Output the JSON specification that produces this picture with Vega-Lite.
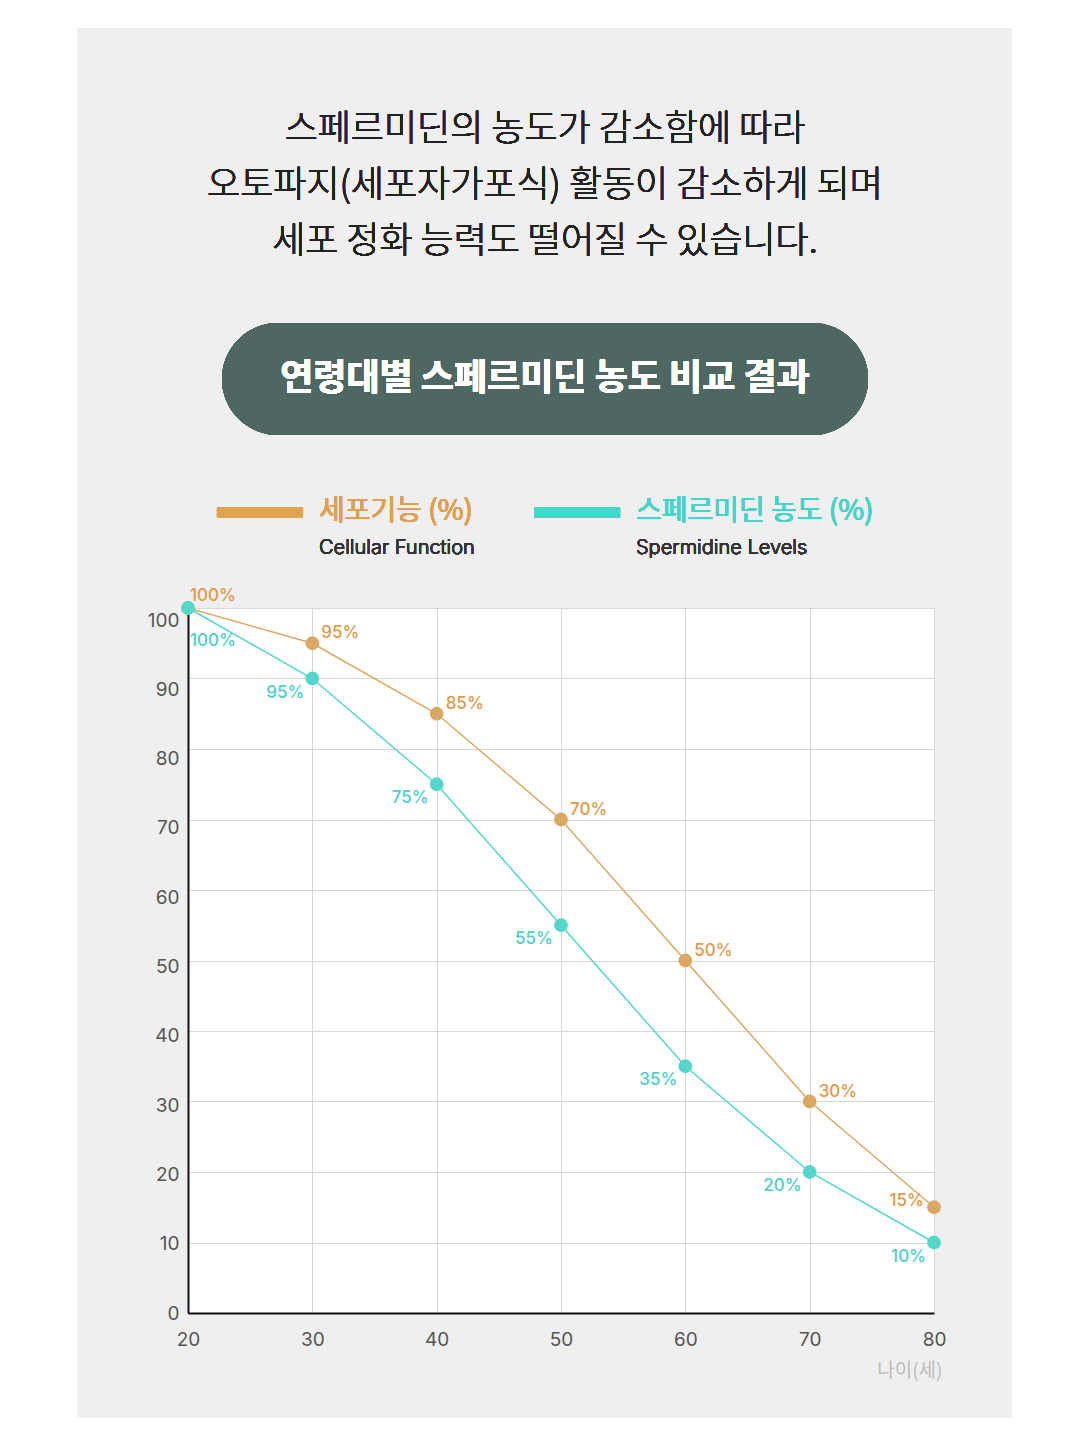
{
  "$schema": "https://vega.github.io/schema/vega-lite/v6.json",
  "autosize": {"type": "none"},
  "width": 746,
  "height": 705,
  "padding": {"left": 188, "top": 608, "right": 146, "bottom": 127},
  "background": "#efefef",
  "config": {
    "view": {"fill": "#ffffff", "stroke": null},
    "font": "Inter"
  },
  "datasets": {
    "series": [
      {"age": 20, "value": 100, "label": "100%", "series": "세포기능 (%)"},
      {"age": 30, "value": 95, "label": "95%", "series": "세포기능 (%)"},
      {"age": 40, "value": 85, "label": "85%", "series": "세포기능 (%)"},
      {"age": 50, "value": 70, "label": "70%", "series": "세포기능 (%)"},
      {"age": 60, "value": 50, "label": "50%", "series": "세포기능 (%)"},
      {"age": 70, "value": 30, "label": "30%", "series": "세포기능 (%)"},
      {"age": 80, "value": 15, "label": "15%", "series": "세포기능 (%)"},
      {"age": 20, "value": 100, "label": "100%", "series": "스페르미딘 농도 (%)"},
      {"age": 30, "value": 90, "label": "95%", "series": "스페르미딘 농도 (%)"},
      {"age": 40, "value": 75, "label": "75%", "series": "스페르미딘 농도 (%)"},
      {"age": 50, "value": 55, "label": "55%", "series": "스페르미딘 농도 (%)"},
      {"age": 60, "value": 35, "label": "35%", "series": "스페르미딘 농도 (%)"},
      {"age": 70, "value": 20, "label": "20%", "series": "스페르미딘 농도 (%)"},
      {"age": 80, "value": 10, "label": "10%", "series": "스페르미딘 농도 (%)"}
    ]
  },
  "data": {"name": "series"},
  "layer": [
    {
      "mark": {"type": "rect", "fill": "#ffffff", "fillOpacity": 0, "stroke": "#ffffff", "strokeWidth": 160},
      "encoding": {
        "x": {"datum": 4.638, "type": "quantitative", "scale": {"domain": [20, 80], "nice": false, "zero": false}},
        "x2": {"datum": 92.71},
        "y": {"datum": 193.62, "type": "quantitative", "scale": {"domain": [0, 100], "nice": false}},
        "y2": {"datum": -26.24}
      }
    },
    {
      "mark": {"type": "line", "strokeWidth": 1.5},
      "encoding": {
        "x": {
          "field": "age", "type": "quantitative",
          "scale": {"domain": [20, 80], "nice": false, "zero": false},
          "axis": {
            "values": [20, 30, 40, 50, 60, 70, 80],
            "grid": true, "gridColor": "#d8d8d8", "gridWidth": 1,
            "domainColor": "#111111", "domainWidth": 2,
            "ticks": false, "labelPadding": 17,
            "labelFontSize": 19, "labelColor": "#555555", "labelFont": "Inter",
            "labelFlush": false,
            "title": "나이(세)", "titleFont": "Noto Sans CJK KR", "titleFontSize": 19,
            "titleFontWeight": "normal", "titleColor": "#bbbbbb",
            "titleAnchor": "end", "titleAlign": "right", "titleX": 754, "titleY": 57, "titleBaseline": "middle"
          }
        },
        "y": {
          "field": "value", "type": "quantitative",
          "scale": {"domain": [0, 100], "nice": false},
          "axis": {
            "values": [0, 10, 20, 30, 40, 50, 60, 70, 80, 90, 100],
            "grid": true, "gridColor": "#d8d8d8", "gridWidth": 1,
            "domainColor": "#111111", "domainWidth": 2,
            "ticks": false, "labelPadding": 9,
            "labelOffset": {"expr": "datum.value * 0.12"},
            "labelFontSize": 19, "labelColor": "#555555", "labelFont": "Inter",
            "labelFlush": false, "title": null
          }
        },
        "color": {
          "field": "series", "type": "nominal",
          "scale": {"domain": ["세포기능 (%)", "스페르미딘 농도 (%)"], "range": ["#dba864", "#55d6cb"]},
          "legend": null
        }
      }
    },
    {
      "mark": {"type": "point", "filled": true, "opacity": 1, "size": 190},
      "encoding": {
        "x": {"field": "age", "type": "quantitative"},
        "y": {"field": "value", "type": "quantitative"},
        "color": {
          "field": "series", "type": "nominal",
          "scale": {"domain": ["세포기능 (%)", "스페르미딘 농도 (%)"], "range": ["#e2974a", "#3fd3c9"]},
          "legend": null
        }
      }
    },
    {
      "transform": [{"filter": "datum.series == '세포기능 (%)' && datum.age < 80 && datum.age > 20"}],
      "mark": {"type": "text", "align": "left", "baseline": "middle", "dx": 9, "dy": -10, "fontSize": 17, "fontWeight": 500, "color": "#e0984a", "font": "Inter"},
      "encoding": {
        "x": {"field": "age", "type": "quantitative"},
        "y": {"field": "value", "type": "quantitative"},
        "text": {"field": "label"}
      }
    },
    {
      "transform": [{"filter": "datum.series == '세포기능 (%)' && datum.age == 20"}],
      "mark": {"type": "text", "align": "left", "baseline": "middle", "dx": 2, "dy": -12, "fontSize": 17, "fontWeight": 500, "color": "#e0984a", "font": "Inter"},
      "encoding": {
        "x": {"field": "age", "type": "quantitative"},
        "y": {"field": "value", "type": "quantitative"},
        "text": {"field": "label"}
      }
    },
    {
      "transform": [{"filter": "datum.series == '세포기능 (%)' && datum.age == 80"}],
      "mark": {"type": "text", "align": "right", "baseline": "middle", "dx": -10, "dy": -6, "fontSize": 17, "fontWeight": 500, "color": "#e0984a", "font": "Inter"},
      "encoding": {
        "x": {"field": "age", "type": "quantitative"},
        "y": {"field": "value", "type": "quantitative"},
        "text": {"field": "label"}
      }
    },
    {
      "transform": [{"filter": "datum.series == '스페르미딘 농도 (%)' && datum.age > 20"}],
      "mark": {"type": "text", "align": "right", "baseline": "middle", "dx": -8, "dy": 14, "fontSize": 17, "fontWeight": 500, "color": "#4ccfc4", "font": "Inter"},
      "encoding": {
        "x": {"field": "age", "type": "quantitative"},
        "y": {"field": "value", "type": "quantitative"},
        "text": {"field": "label"}
      }
    },
    {
      "transform": [{"filter": "datum.series == '스페르미딘 농도 (%)' && datum.age == 20"}],
      "mark": {"type": "text", "align": "left", "baseline": "middle", "dx": 2, "dy": 33, "fontSize": 17, "fontWeight": 500, "color": "#4ccfc4", "font": "Inter"},
      "encoding": {
        "x": {"field": "age", "type": "quantitative"},
        "y": {"field": "value", "type": "quantitative"},
        "text": {"field": "label"}
      }
    },
    {
      "mark": {"type": "text", "align": "center", "baseline": "middle", "fontSize": 36, "fontWeight": 300, "font": "Noto Sans CJK KR", "color": "#222222", "letterSpacing": -1,
        "text": "스페르미딘의 농도가 감소함에 따라"},
      "encoding": {"x": {"datum": 48.71, "type": "quantitative"}, "y": {"datum": 167.8, "type": "quantitative"}}
    },
    {
      "mark": {"type": "text", "align": "center", "baseline": "middle", "fontSize": 36, "fontWeight": 300, "font": "Noto Sans CJK KR", "color": "#222222", "letterSpacing": -1,
        "text": "오토파지(세포자가포식) 활동이 감소하게 되며"},
      "encoding": {"x": {"datum": 48.71, "type": "quantitative"}, "y": {"datum": 159.8, "type": "quantitative"}}
    },
    {
      "mark": {"type": "text", "align": "center", "baseline": "middle", "fontSize": 36, "fontWeight": 300, "font": "Noto Sans CJK KR", "color": "#222222", "letterSpacing": -1,
        "text": "세포 정화 능력도 떨어질 수 있습니다."},
      "encoding": {"x": {"datum": 48.71, "type": "quantitative"}, "y": {"datum": 151.9, "type": "quantitative"}}
    },
    {
      "mark": {"type": "rule", "color": "#4f6762", "strokeWidth": 112, "strokeCap": "round"},
      "encoding": {
        "x": {"datum": 27.24, "type": "quantitative"},
        "x2": {"datum": 70.19},
        "y": {"datum": 132.48, "type": "quantitative"}
      }
    },
    {
      "mark": {"type": "text", "align": "center", "baseline": "middle", "fontSize": 36, "fontWeight": "bold", "font": "Noto Sans CJK KR", "color": "#ffffff", "letterSpacing": -1,
        "text": "연령대별 스페르미딘 농도 비교 결과"},
      "encoding": {"x": {"datum": 48.71, "type": "quantitative"}, "y": {"datum": 132.48, "type": "quantitative"}}
    },
    {
      "mark": {"type": "rule", "color": "#e0a451", "strokeWidth": 10},
      "encoding": {
        "x": {"datum": 22.33, "type": "quantitative"},
        "x2": {"datum": 29.25},
        "y": {"datum": 113.5, "type": "quantitative"}
      }
    },
    {
      "mark": {"type": "rule", "color": "#45d6cc", "strokeWidth": 10},
      "encoding": {
        "x": {"datum": 47.83, "type": "quantitative"},
        "x2": {"datum": 54.75},
        "y": {"datum": 113.5, "type": "quantitative"}
      }
    },
    {
      "mark": {"type": "text", "align": "left", "baseline": "middle", "fontSize": 28, "fontWeight": "normal", "font": "Noto Sans CJK KR", "color": "#e0a052", "letterSpacing": -0.5,
        "text": "세포기능 (%)"},
      "encoding": {"x": {"datum": 30.54, "type": "quantitative"}, "y": {"datum": 113.6, "type": "quantitative"}}
    },
    {
      "mark": {"type": "text", "align": "left", "baseline": "middle", "fontSize": 28, "fontWeight": "normal", "font": "Noto Sans CJK KR", "color": "#48d3c9", "letterSpacing": -0.5,
        "text": "스페르미딘 농도 (%)"},
      "encoding": {"x": {"datum": 56.03, "type": "quantitative"}, "y": {"datum": 113.6, "type": "quantitative"}}
    },
    {
      "mark": {"type": "text", "align": "left", "baseline": "middle", "fontSize": 20, "fontWeight": 300, "font": "Inter", "color": "#333333", "letterSpacing": -0.6,
        "text": "Cellular Function"},
      "encoding": {"x": {"datum": 30.54, "type": "quantitative"}, "y": {"datum": 108.5, "type": "quantitative"}}
    },
    {
      "mark": {"type": "text", "align": "left", "baseline": "middle", "fontSize": 20, "fontWeight": 300, "font": "Inter", "color": "#333333", "letterSpacing": -0.6,
        "text": "Spermidine Levels"},
      "encoding": {"x": {"datum": 56.03, "type": "quantitative"}, "y": {"datum": 108.5, "type": "quantitative"}}
    }
  ]
}
